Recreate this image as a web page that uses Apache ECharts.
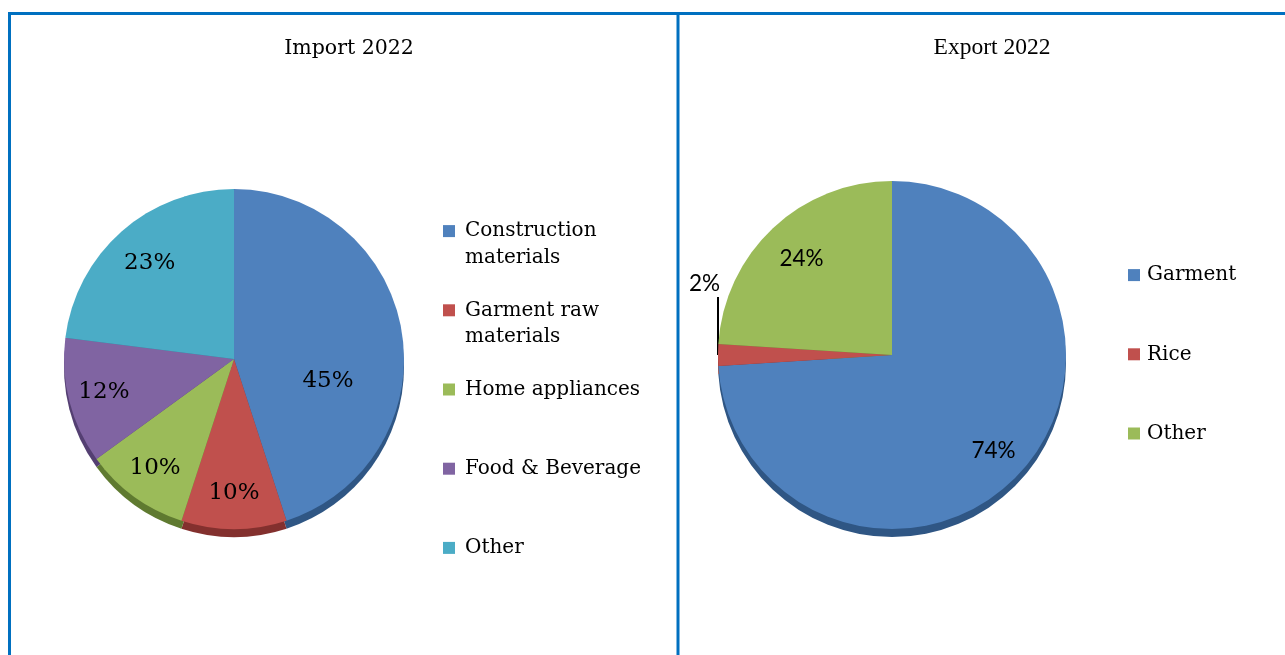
<!DOCTYPE html>
<html>
<head>
<meta charset="utf-8">
<script src="https://cdn.jsdelivr.net/npm/echarts@6/dist/echarts.min.js"></script>
<style>
  html, body { margin: 0; padding: 0; background: #ffffff; }
  #chart { width: 1285px; height: 655px; }
</style>
</head>
<body>
<div id="chart"></div>
<script>
// Import 2022 shares (%)
const importCategories = ['Construction materials', 'Garment raw materials', 'Home appliances', 'Food & Beverage', 'Other'];
const importValues = [45, 10, 10, 12, 23];
// Export 2022 shares (%)
const exportCategories = ['Garment', 'Rice', 'Other'];
const exportValues = [74, 2, 24];

const importColors = ['#4f81bd', '#c0504d', '#9bbb59', '#8064a2', '#4bacc6'];
const importEdge   = ['#2f5684', '#83302e', '#5f7a30', '#543f72', '#2a7f96'];
const exportColors = ['#4f81bd', '#c0504d', '#9bbb59'];
const exportEdge   = ['#2f5684', '#83302e', '#5f7a30'];

const serifFont = '"DejaVu Serif", "Liberation Serif", serif';
const titleFont2 = '"Liberation Serif", "Times New Roman", serif';
const sansFont = 'Lato, "Liberation Sans", sans-serif';

// geometry of the two pies
const importCenter = [234, 359], importR = 170;
const exportCenter = [892, 355], exportR = 174;
const edgeDrop = 8;

// label placement (fraction of radius, vertical nudge) for each slice
const importLabelRadius = [0.56, 0.79, 0.79, 0.79, 0.75];
const importLabelNudge  = [37, 0, 0, 0, 0];
const exportLabelRadius = [0.8, 1, 0.76];

// legend text: wrapped names, each item laid out as three lines so the
// swatch sits beside the first line of the name
const legendWrap = {
  'Construction materials': 'Construction\nmaterials',
  'Garment raw materials': 'Garment raw\nmaterials'
};
function legendText(n) {
  return legendWrap[n] ? '\n' + legendWrap[n] : '\n' + n + '\n ';
}
function legendData(names, colors) {
  return names.map((n, i) => ({ name: n, itemStyle: { color: colors[i] } }));
}

function midAngle(values, i) {
  const total = values.reduce((a, b) => a + b, 0);
  let start = 0;
  for (let k = 0; k < i; k++) start += values[k];
  return (start + values[i] / 2) / total * Math.PI * 2; // clockwise from 12 o'clock
}

function pieData(names, values, colors) {
  return names.map((n, i) => ({ name: n, value: values[i], itemStyle: { color: colors[i] } }));
}

const chart = echarts.init(document.getElementById('chart'), null, { renderer: 'canvas' });

function legendTextStyle(padLeft) {
  return { fontFamily: serifFont, fontSize: 20, color: '#000', lineHeight: 26.4, padding: [0, 0, 0, padLeft] };
}

const option = {
  animation: false,
  backgroundColor: '#ffffff',
  title: [
    { text: 'Import 2022', left: 344, top: 33, textAlign: 'center',
      textStyle: { fontFamily: serifFont, fontSize: 20.5, fontWeight: 'normal', color: '#000' } },
    { text: 'Export 2022', left: 987, top: 31, textAlign: 'center',
      textStyle: { fontFamily: titleFont2, fontSize: 23.5, fontWeight: 'normal', color: '#000' } }
  ],
  legend: [
    {
      orient: 'vertical', left: 438, top: 186.5, itemGap: 0,
      itemWidth: 12, itemHeight: 12, icon: 'rect',
      data: legendData(importCategories, importColors),
      formatter: legendText,
      textStyle: legendTextStyle(5),
      selectedMode: false
    },
    {
      orient: 'vertical', left: 1123, top: 230.5, itemGap: 0,
      itemWidth: 12, itemHeight: 12, icon: 'rect',
      data: legendData(exportCategories, exportColors),
      formatter: legendText,
      textStyle: legendTextStyle(2),
      selectedMode: false
    }
  ],
  graphic: [
    { type: 'line', shape: { x1: 8, y1: 13.5, x2: 1285, y2: 13.5 }, style: { stroke: '#0070c0', lineWidth: 3 } },
    { type: 'line', shape: { x1: 9.5, y1: 12, x2: 9.5, y2: 655 }, style: { stroke: '#0070c0', lineWidth: 3 } },
    { type: 'line', shape: { x1: 678, y1: 12, x2: 678, y2: 655 }, style: { stroke: '#0070c0', lineWidth: 3 } }
  ],
  series: [
    {
      name: 'Import 2022', type: 'pie', z: 2, startAngle: 90, clockwise: true,
      center: importCenter, radius: importR,
      itemStyle: { borderWidth: 0 },
      label: {
        show: true, position: 'inside', formatter: '{c}%',
        fontFamily: serifFont, fontSize: 23, color: '#000'
      },
      labelLayout: p => {
        const i = p.dataIndex;
        const a = midAngle(importValues, i);
        const r = importR * importLabelRadius[i];
        return {
          x: importCenter[0] + r * Math.sin(a),
          y: importCenter[1] - r * Math.cos(a) + importLabelNudge[i],
          align: 'center', verticalAlign: 'middle'
        };
      },
      data: pieData(importCategories, importValues, importColors)
    },
    {
      name: 'Export 2022', type: 'pie', z: 2, startAngle: 90, clockwise: true,
      center: exportCenter, radius: exportR,
      itemStyle: { borderWidth: 0 },
      label: {
        show: true, position: 'inside', formatter: '{c}%',
        fontFamily: sansFont, fontSize: 22.5, color: '#000'
      },
      labelLine: { show: true, lineStyle: { color: '#000', width: 2 } },
      labelLayout: p => {
        const i = p.dataIndex;
        const a = midAngle(exportValues, i);
        if (exportValues[i] < 5) {
          // small slice: label above with a vertical leader line from the rim
          const ex = exportCenter[0] + exportR * Math.sin(a);
          const ey = exportCenter[1] - exportR * Math.cos(a);
          return {
            x: ex + 2, y: ey - 60,
            align: 'right', verticalAlign: 'bottom',
            labelLinePoints: [[ex, ey], [ex, ey - 30], [ex, ey - 58]]
          };
        }
        const r = exportR * exportLabelRadius[i];
        return {
          x: exportCenter[0] + r * Math.sin(a),
          y: exportCenter[1] - r * Math.cos(a),
          align: 'center', verticalAlign: 'middle'
        };
      },
      data: exportCategories.map((n, i) => ({
        name: n, value: exportValues[i], itemStyle: { color: exportColors[i] },
        label: exportValues[i] < 5 ? { position: 'outside' } : undefined,
        labelLine: { show: exportValues[i] < 5 }
      }))
    },
    // darker rim under each pie
    {
      type: 'pie', silent: true, z: 1, startAngle: 90, clockwise: true,
      center: [importCenter[0], importCenter[1] + edgeDrop], radius: importR,
      label: { show: false }, labelLine: { show: false },
      data: pieData(importCategories, importValues, importEdge)
    },
    {
      type: 'pie', silent: true, z: 1, startAngle: 90, clockwise: true,
      center: [exportCenter[0], exportCenter[1] + edgeDrop], radius: exportR,
      label: { show: false }, labelLine: { show: false },
      data: pieData(exportCategories, exportValues, exportEdge)
    }
  ]
};

chart.setOption(option);
</script>
</body>
</html>
